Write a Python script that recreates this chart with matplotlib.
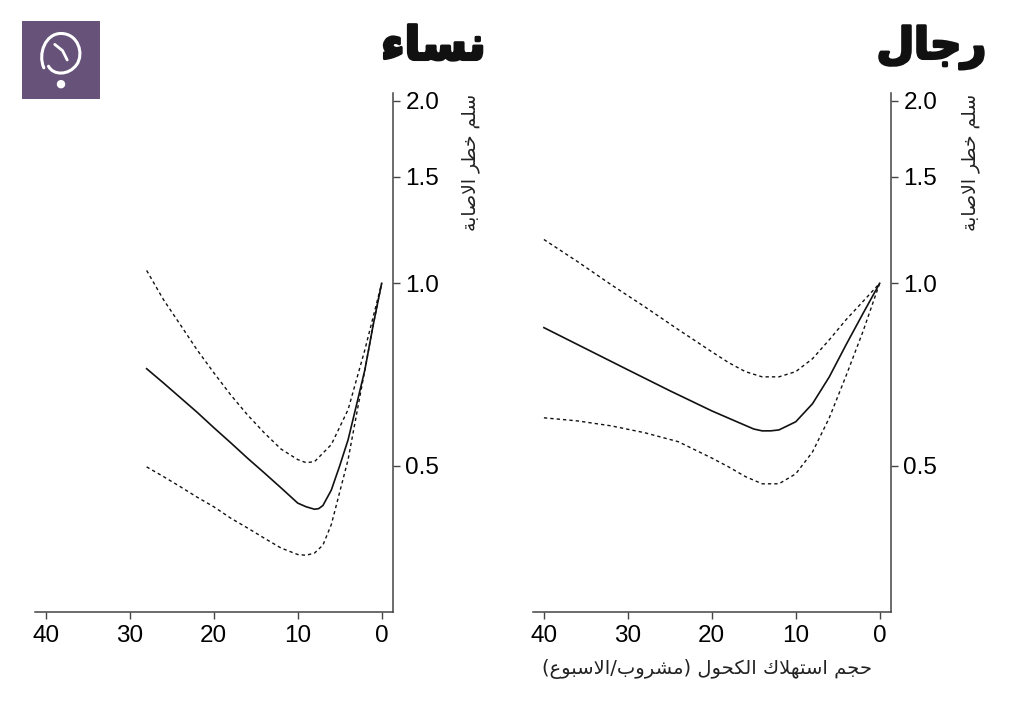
import matplotlib
matplotlib.use("Agg")
import matplotlib.pyplot as plt
import matplotlib.patheffects as pe
from matplotlib.path import Path
from matplotlib.patches import PathPatch, Circle

# ---------------- data ----------------
women_x = [28, 26, 24, 22, 20, 18, 16, 14, 12, 10, 9, 8, 7.5, 7, 6, 5, 4, 3, 2, 1, 0]
women_rr = [0.723, 0.685, 0.648, 0.613, 0.578, 0.546, 0.515, 0.487, 0.460, 0.434, 0.428, 0.424,
            0.425, 0.430, 0.456, 0.500, 0.552, 0.630, 0.720, 0.855, 1.0]
women_hi_x = [28, 26, 24, 22, 20, 18, 16, 14, 12, 10, 9, 8, 6, 4, 2, 0]
women_hi = [1.05, 0.940, 0.855, 0.777, 0.712, 0.655, 0.607, 0.567, 0.533, 0.512, 0.506, 0.508,
            0.542, 0.619, 0.777, 1.0]
women_lo_x = [28, 26, 24, 22, 20, 18, 16, 14, 12, 10, 9, 8, 7, 6, 4, 2, 1, 0]
women_lo = [0.498, 0.480, 0.462, 0.444, 0.428, 0.410, 0.395, 0.380, 0.366, 0.357, 0.356, 0.359,
            0.370, 0.400, 0.512, 0.720, 0.855, 1.0]

men_x = [40, 35, 30, 25, 20, 17, 15, 14, 13, 12, 10, 8, 6, 4, 2, 0]
men_rr = [0.845, 0.780, 0.720, 0.665, 0.616, 0.591, 0.575, 0.571, 0.571, 0.573, 0.591, 0.633,
          0.701, 0.792, 0.891, 1.0]
men_ci_x = [40, 36, 32, 28, 24, 20, 18, 16, 14, 12, 10, 8, 6, 4, 2, 0]
men_hi = [1.181, 1.086, 0.995, 0.915, 0.839, 0.771, 0.740, 0.715, 0.701, 0.701, 0.715, 0.751,
          0.807, 0.871, 0.933, 1.0]
men_lo = [0.600, 0.593, 0.582, 0.567, 0.548, 0.515, 0.498, 0.480, 0.467, 0.467, 0.485, 0.527,
          0.600, 0.704, 0.832, 1.0]

x_ticks = [40, 30, 20, 10, 0]
y_ticks = [0.5, 1.0, 1.5, 2.0]
y_tick_labels = ["0.5", "1.0", "1.5", "2.0"]

title_women = "نساء"
title_men = "رجال"
y_label = "سلم خطر الاصابة"
x_label = "حجم استهلاك الكحول (مشروب/الاسبوع)"

# ------------- Arabic shaping (presentation forms + RTL order) -------------
FORMS = {
    'ء': (0xFE80, None, None, None),
    'ا': (0xFE8D, 0xFE8E, None, None),
    'ب': (0xFE8F, 0xFE90, 0xFE91, 0xFE92),
    'ة': (0xFE93, 0xFE94, None, None),
    'ت': (0xFE95, 0xFE96, 0xFE97, 0xFE98),
    'ج': (0xFE9D, 0xFE9E, 0xFE9F, 0xFEA0),
    'ح': (0xFEA1, 0xFEA2, 0xFEA3, 0xFEA4),
    'خ': (0xFEA5, 0xFEA6, 0xFEA7, 0xFEA8),
    'ر': (0xFEAD, 0xFEAE, None, None),
    'س': (0xFEB1, 0xFEB2, 0xFEB3, 0xFEB4),
    'ش': (0xFEB5, 0xFEB6, 0xFEB7, 0xFEB8),
    'ص': (0xFEB9, 0xFEBA, 0xFEBB, 0xFEBC),
    'ط': (0xFEC1, 0xFEC2, 0xFEC3, 0xFEC4),
    'ع': (0xFEC9, 0xFECA, 0xFECB, 0xFECC),
    'ك': (0xFED9, 0xFEDA, 0xFEDB, 0xFEDC),
    'ل': (0xFEDD, 0xFEDE, 0xFEDF, 0xFEE0),
    'م': (0xFEE1, 0xFEE2, 0xFEE3, 0xFEE4),
    'ن': (0xFEE5, 0xFEE6, 0xFEE7, 0xFEE8),
    'ه': (0xFEE9, 0xFEEA, 0xFEEB, 0xFEEC),
    'و': (0xFEED, 0xFEEE, None, None),
    'لا': (0xFEFB, 0xFEFC, None, None),
}


def shape(text):
    toks = []
    i = 0
    while i < len(text):
        if text[i] == 'ل' and i + 1 < len(text) and text[i + 1] == 'ا':
            toks.append('لا')
            i += 2
        else:
            toks.append(text[i])
            i += 1
    out = []
    for k, t in enumerate(toks):
        if t not in FORMS:
            out.append(t)
            continue
        f = FORMS[t]
        prev = toks[k - 1] if k > 0 else None
        nxt = toks[k + 1] if k + 1 < len(toks) else None
        jp = prev in FORMS and FORMS[prev][2] is not None and f[1] is not None
        jn = f[2] is not None and nxt in FORMS and FORMS[nxt][1] is not None
        if jp and jn:
            c = f[3]
        elif jp:
            c = f[1]
        elif jn:
            c = f[2]
        else:
            c = f[0]
        out.append(chr(c))
    mirror = {'(': ')', ')': '('}
    return ''.join(mirror.get(c, c) for c in reversed(out))


# ---------------- figure ----------------
fig = plt.figure(figsize=(10.11, 7.11), dpi=100)
fig.patch.set_facecolor('white')

TICK_FONT = 'Liberation Sans'
AR_FONT = ['DejaVu Sans']
spine_col = '#444444'

xlim = (41.3, -1.35)
ylim = (0.287, 2.06)


def setup(ax):
    ax.set_yscale('log')
    ax.set_xlim(*xlim)
    ax.set_ylim(*ylim)
    for s in ['left', 'top']:
        ax.spines[s].set_visible(False)
    for s in ['right', 'bottom']:
        ax.spines[s].set_color(spine_col)
        ax.spines[s].set_linewidth(1.1)
    ax.yaxis.tick_right()
    ax.set_xticks(x_ticks)
    ax.set_xticklabels([str(v) for v in x_ticks], fontfamily=TICK_FONT, fontsize=17.5)
    ax.yaxis.set_minor_locator(matplotlib.ticker.NullLocator())
    ax.set_yticks(y_ticks)
    ax.set_yticklabels(y_tick_labels, fontfamily=TICK_FONT, fontsize=17.5)
    ax.tick_params(axis='both', which='major', length=5, width=1.0, color=spine_col,
                   direction='out', pad=4, labelcolor='black')
    ax.tick_params(axis='y', which='minor', length=0)


ax1 = fig.add_axes([35 / 1011, 1 - 612 / 711, 358 / 1011, 519 / 711])
ax2 = fig.add_axes([533 / 1011, 1 - 612 / 711, 358 / 1011, 519 / 711])
for ax in (ax1, ax2):
    setup(ax)

dash = (0, (2.4, 2.2))
ax1.plot(women_x, women_rr, color='#111111', lw=1.2)
ax1.plot(women_hi_x, women_hi, color='#111111', lw=1.0, linestyle=dash)
ax1.plot(women_lo_x, women_lo, color='#111111', lw=1.0, linestyle=dash)

ax2.plot(men_x, men_rr, color='#111111', lw=1.2)
ax2.plot(men_ci_x, men_hi, color='#111111', lw=1.0, linestyle=dash)
ax2.plot(men_ci_x, men_lo, color='#111111', lw=1.0, linestyle=dash)

# titles
heavy = [pe.withStroke(linewidth=2.2, foreground='#111111')]
fig.text(486 / 1011, 1 - 47 / 711, shape(title_women), ha='right', va='center',
         fontsize=33, fontweight='bold', family=AR_FONT, color='#111111', path_effects=heavy)
fig.text(986 / 1011, 1 - 47 / 711, shape(title_men), ha='right', va='center',
         fontsize=31, fontweight='bold', family=AR_FONT, color='#111111', path_effects=heavy)

# y labels
for xc in (471, 971):
    fig.text(xc / 1011, 1 - 162 / 711, shape(y_label), ha='center', va='center',
             rotation=90, fontsize=13.5, family=AR_FONT, color='#222222')

# x label
fig.text(707 / 1011, 1 - 669 / 711, shape(x_label), ha='center', va='center',
         fontsize=14, family=AR_FONT, color='#222222')

# logo
lax = fig.add_axes([22 / 1011, 1 - 99 / 711, 78 / 1011, 78 / 711])
lax.set_xlim(0, 1)
lax.set_ylim(0, 1)
lax.axis('off')
lax.add_patch(plt.Rectangle((0, 0), 1, 1, color='#675279', transform=lax.transAxes))
verts = [(0.28, 0.40), (0.20, 0.58), (0.30, 0.84), (0.50, 0.84),
         (0.72, 0.84), (0.80, 0.58), (0.70, 0.44),
         (0.60, 0.30), (0.40, 0.30), (0.34, 0.42)]
codes = [Path.MOVETO, Path.CURVE4, Path.CURVE4, Path.CURVE4,
         Path.CURVE4, Path.CURVE4, Path.CURVE4,
         Path.CURVE4, Path.CURVE4, Path.CURVE4]
lax.add_patch(PathPatch(Path(verts, codes), facecolor='none', edgecolor='white', lw=2.2,
                        capstyle='round'))
lax.plot([0.42, 0.52, 0.58], [0.70, 0.62, 0.50], color='white', lw=2.0, solid_capstyle='round')
lax.add_patch(Circle((0.50, 0.19), 0.045, color='white'))

fig.savefig('out.png', dpi=100, facecolor='white')
